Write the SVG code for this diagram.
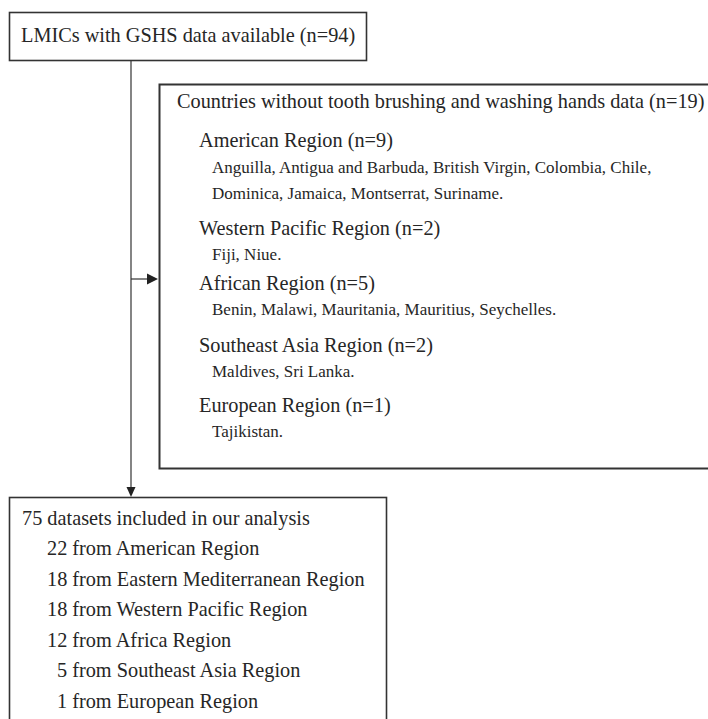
<svg xmlns="http://www.w3.org/2000/svg" width="708" height="719" viewBox="0 0 708 719">
<style>
.t{font-size:20.3px}
.s{font-size:17px}
.box{fill:#fff;stroke:#333}
.con{stroke:#333;stroke-width:1.2;fill:none}
</style>
<rect width="708" height="719" fill="#fff"/>
<g id="connectors">
<path class="con" d="M131,60 V488"/>
<path class="con" d="M131,279 H148"/>
<path d="M147,273.5 L158,279 L147,284.5 Z" fill="#222"/>
<path d="M126.5,487 L131,497 L135.5,487 Z" fill="#222"/>
</g>
<g font-family="Liberation Serif, 'Times New Roman', serif" fill="#262626">
<g id="n1">
<rect class="box" x="9.5" y="12.5" width="357" height="48" stroke-width="1.6"/>
<text class="t" x="21" y="42">LMICs with GSHS data available (n=94)</text>
</g>
<g id="n2">
<rect class="box" x="159.5" y="84.5" width="570" height="384" stroke-width="2"/>
<text class="t" x="177" y="108">Countries without tooth brushing and washing hands data (n=19)</text>
<text class="t" x="199" y="147">American Region (n=9)</text>
<text class="s" x="212" y="173">Anguilla, Antigua and Barbuda, British Virgin, Colombia, Chile,</text>
<text class="s" x="212" y="199">Dominica, Jamaica, Montserrat, Suriname.</text>
<text class="t" x="199" y="235">Western Pacific Region (n=2)</text>
<text class="s" x="212" y="260">Fiji, Niue.</text>
<text class="t" x="199" y="290">African Region (n=5)</text>
<text class="s" x="212" y="315">Benin, Malawi, Mauritania, Mauritius, Seychelles.</text>
<text class="t" x="199" y="352">Southeast Asia Region (n=2)</text>
<text class="s" x="212" y="377">Maldives, Sri Lanka.</text>
<text class="t" x="199" y="412">European Region (n=1)</text>
<text class="s" x="212" y="437">Tajikistan.</text>
</g>
<g id="n3">
<rect class="box" x="9.5" y="497.5" width="377" height="240" stroke-width="1.6"/>
<text class="t" x="22" y="525">75 datasets included in our analysis</text>
<text class="t" x="47" y="555">22 from American Region</text>
<text class="t" x="47" y="586">18 from Eastern Mediterranean Region</text>
<text class="t" x="47" y="616">18 from Western Pacific Region</text>
<text class="t" x="47" y="647">12 from Africa Region</text>
<text class="t" x="57" y="677">5 from Southeast Asia Region</text>
<text class="t" x="57" y="708">1 from European Region</text>
</g>
</g>
</svg>
